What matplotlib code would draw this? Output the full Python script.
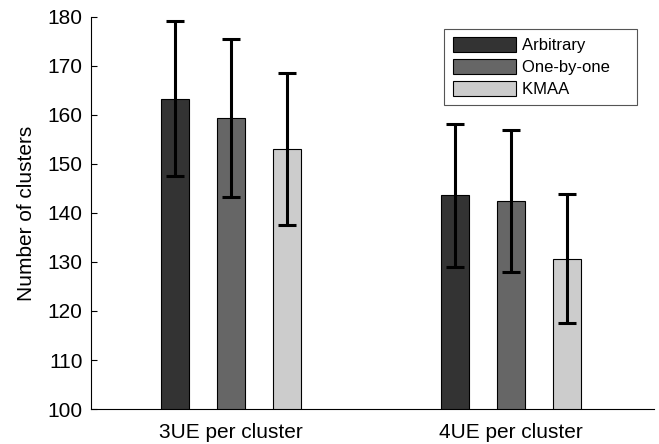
import numpy as np
from matplotlib import pyplot as plt
from matplotlib.patches import Patch

plt.rcParams['font.family'] = ['Liberation Sans', 'DejaVu Sans']

groups = ["3UE per cluster", "4UE per cluster"]
methods = ["Arbitrary", "One-by-one", "KMAA"]
colors = ["#333333", "#666666", "#cccccc"]

# mean number of clusters, one list per method
means = {
	"Arbitrary": [163.3, 143.6],
	"One-by-one": [159.4, 142.4],
	"KMAA": [153.0, 130.7],
}
# error bar half-length
errs = {
	"Arbitrary": [15.8, 14.6],
	"One-by-one": [16.1, 14.5],
	"KMAA": [15.5, 13.2],
}

fig = plt.figure(figsize=(6.59, 4.44), dpi=100)
ax = fig.add_axes([0.138, 0.0788, 0.854, 0.883])

x = np.arange(1, len(groups) + 1)
offsets = [-0.2, 0.0, 0.2]
width = 0.103

for m, c, off in zip(methods, colors, offsets):
	ax.bar(x + off, means[m], width, color=c, edgecolor="black", linewidth=0.8, zorder=2)
	ax.errorbar(x + off, means[m], yerr=errs[m], fmt="none", ecolor="black",
		elinewidth=2.2, capsize=6.5, capthick=2.2, zorder=3)

ax.set_xlim(0.5, 2.51)
ax.set_ylim(100, 180)
ax.set_yticks(np.arange(100, 181, 10))
ax.set_xticks(x)
ax.set_xticklabels(groups, fontsize=15)
ax.tick_params(axis="x", length=0, pad=10)
ax.tick_params(axis="y", direction="in", length=4, labelsize=15, pad=6)
ax.set_ylabel("Number of clusters", fontsize=15, labelpad=8)

ax.spines["top"].set_visible(False)
ax.spines["right"].set_visible(False)
ax.spines["left"].set_linewidth(0.8)
ax.spines["bottom"].set_linewidth(0.8)

# trailing spaces widen the box on the right like the original
labels = [m + "    " for m in methods]
handles = [Patch(facecolor=c, edgecolor="black", linewidth=0.8) for c in colors]
leg = ax.legend(handles, labels, loc="upper right", bbox_to_anchor=(0.970, 0.969),
	borderaxespad=0, fontsize=12, fancybox=False, framealpha=1, edgecolor="#555555",
	handlelength=3.8, handleheight=0.96, handletextpad=0.36, labelspacing=0.35,
	borderpad=0.5)
leg.get_frame().set_linewidth(0.8)

fig.savefig("out.png", dpi=100)
